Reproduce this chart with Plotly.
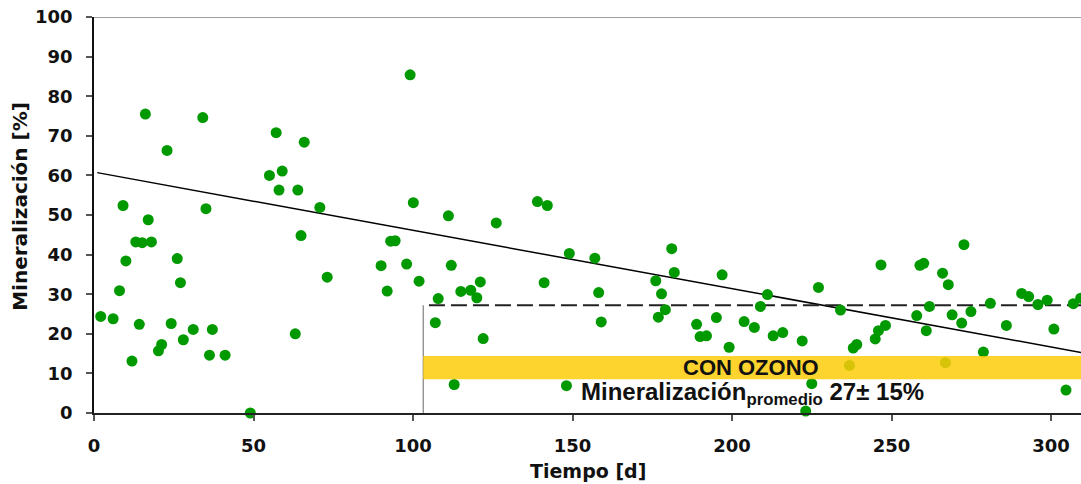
import plotly.graph_objects as go

# ---- data ----
tiempo = [2.1, 6.0, 8.0, 9.1, 10.0, 11.9, 13.1, 14.2, 15.1, 16.1, 17.0, 18.0, 20.2, 21.2, 22.9,
          24.2, 26.1, 27.1, 28.0, 31.1, 34.1, 35.1, 36.2, 37.1, 41.1, 49.0, 55.0, 57.1, 58.0,
          59.0, 63.1, 63.9, 64.9, 65.9, 70.8, 73.1,
          90.0, 91.9, 93.0, 94.4, 98.0, 99.1, 100.1, 101.9, 107.0, 107.9, 111.1, 112.0, 112.9,
          115.0, 118.1, 120.0, 121.1, 122.0, 126.1, 139.0, 141.1, 142.1, 148.1, 149.0,
          157.0, 158.2, 159.0, 176.1, 176.9, 177.9, 179.1, 181.1, 181.9, 188.9, 190.0, 192.0,
          195.1, 196.9, 199.1, 203.8, 207.0, 208.9, 211.1, 212.9, 215.9, 222.0, 223.1, 225.0,
          227.1,
          234.0, 236.8, 238.0, 239.1, 244.9, 245.9, 246.7, 248.1, 257.9, 258.9, 260.1, 260.9,
          261.9, 266.0, 266.9, 267.8, 269.0, 272.0, 272.7, 274.9, 278.8, 281.0, 286.0, 290.8,
          293.0, 295.9, 298.8, 300.9, 304.7, 307.0, 309.3]
mineralizacion = [24.4, 23.8, 30.9, 52.4, 38.4, 13.1, 43.2, 22.4, 43.0, 75.5, 48.8, 43.2, 15.7,
                  17.3, 66.3, 22.6, 39.0, 32.9, 18.5, 21.1, 74.6, 51.6, 14.6, 21.1, 14.6, 0.0,
                  60.0, 70.8, 56.3, 61.1, 20.0, 56.3, 44.8, 68.4, 51.9, 34.3,
                  37.2, 30.8, 43.4, 43.5, 37.6, 85.4, 53.1, 33.3, 22.8, 28.9, 49.8, 37.3, 7.2,
                  30.7, 31.0, 29.1, 33.1, 18.8, 48.0, 53.4, 32.9, 52.4, 6.9, 40.3,
                  39.1, 30.4, 23.0, 33.4, 24.2, 30.1, 26.1, 41.5, 35.5, 22.4, 19.3, 19.5,
                  24.1, 34.9, 16.6, 23.1, 21.6, 26.9, 29.9, 19.5, 20.3, 18.2, 0.5, 7.4,
                  31.7,
                  26.0, 12.0, 16.4, 17.3, 18.7, 20.8, 37.4, 22.1, 24.6, 37.3, 37.8, 20.8,
                  26.9, 35.3, 12.7, 32.4, 24.8, 22.7, 42.5, 25.6, 15.4, 27.7, 22.1, 30.2,
                  29.4, 27.4, 28.5, 21.2, 5.8, 27.6, 29.0]

# trend line (end points)
trend_x = [1.0, 309.4]
trend_y = [60.7, 15.3]

# ozone period
ozono_inicio = 103.2
promedio = 27.2
banda_y = [8.5, 14.4]

x_ticks = [0, 50, 100, 150, 200, 250, 300]
y_ticks = [0, 10, 20, 30, 40, 50, 60, 70, 80, 90, 100]
x_range = [0, 309.4]
y_range = [0, 100]

AX_FONT = "DejaVu Sans"
TXT_FONT = "Liberation Sans, Arial, sans-serif"

fig = go.Figure()

fig.add_trace(go.Scatter(x=trend_x, y=trend_y, mode="lines",
                         line=dict(color="black", width=1.5), hoverinfo="skip",
                         showlegend=False))
fig.add_trace(go.Scatter(x=[ozono_inicio + 1.8, x_range[1]], y=[promedio, promedio], mode="lines",
                         line=dict(color="#222222", width=2, dash="16px,6px"),
                         hoverinfo="skip", showlegend=False))
fig.add_trace(go.Scatter(x=tiempo, y=mineralizacion, mode="markers",
                         marker=dict(color="#009900", size=11, line=dict(width=0)),
                         cliponaxis=False, showlegend=False))

shapes = [
    # vertical marker of ozone start
    dict(type="line", xref="x", yref="y", x0=ozono_inicio, x1=ozono_inicio,
         y0=0, y1=promedio, line=dict(color="#666666", width=1), layer="above"),
    # yellow band
    dict(type="rect", xref="x", yref="y", x0=ozono_inicio, x1=x_range[1],
         y0=banda_y[0], y1=banda_y[1], fillcolor="rgb(253,203,9)", opacity=0.85,
         line=dict(width=0), layer="above"),
    # top border
    dict(type="line", xref="paper", yref="y", x0=0, x1=1, y0=y_range[1], y1=y_range[1],
         line=dict(color="#808080", width=1.5), layer="above"),
]

annotations = [
    dict(text="<b>CON OZONO</b>", x=206, y=sum(banda_y) / 2, xref="x", yref="y",
         showarrow=False, font=dict(family=TXT_FONT, size=22, color="#111111"),
         xanchor="center", yanchor="middle"),
    dict(text="<b>Mineralización<sub>promedio</sub> 27± 15%</b>", x=206.5, y=5.0,
         xref="x", yref="y", showarrow=False,
         font=dict(family=TXT_FONT, size=24, color="#111111"),
         xanchor="center", yanchor="middle"),
    dict(text="<b>Tiempo [d]</b>", x=0.5, y=0, xref="paper", yref="paper",
         showarrow=False, font=dict(family=AX_FONT, size=19, color="#111111"),
         xanchor="center", yanchor="top", yshift=-45),
    dict(text="<b>Mineralización [%]</b>", x=-0.075, y=0.523, xref="paper", yref="paper",
         showarrow=False, textangle=-90,
         font=dict(family=AX_FONT, size=20, color="#111111"),
         xanchor="center", yanchor="middle"),
]

fig.update_layout(
    width=1081, height=484,
    margin=dict(l=94, r=0, t=17, b=71, pad=0),
    paper_bgcolor="white", plot_bgcolor="white",
    shapes=shapes, annotations=annotations,
    showlegend=False,
)
fig.update_xaxes(range=x_range, tickvals=x_ticks, ticks="outside", ticklen=6,
                 tickwidth=1.5, tickcolor="#555555", showline=True, linecolor="#222222",
                 linewidth=1.5, showgrid=False, zeroline=False,
                 tickfont=dict(family=AX_FONT, size=18, color="#111111", weight="bold"),
                 ticklabelstandoff=10)
fig.update_yaxes(range=y_range, tickvals=y_ticks, ticks="outside", ticklen=6,
                 tickwidth=1.5, tickcolor="#555555", showline=True, linecolor="#111111",
                 linewidth=1.5, showgrid=False, zeroline=False,
                 tickfont=dict(family=AX_FONT, size=18, color="#111111", weight="bold"),
                 ticklabelstandoff=10)

fig.write_html("out.html")
